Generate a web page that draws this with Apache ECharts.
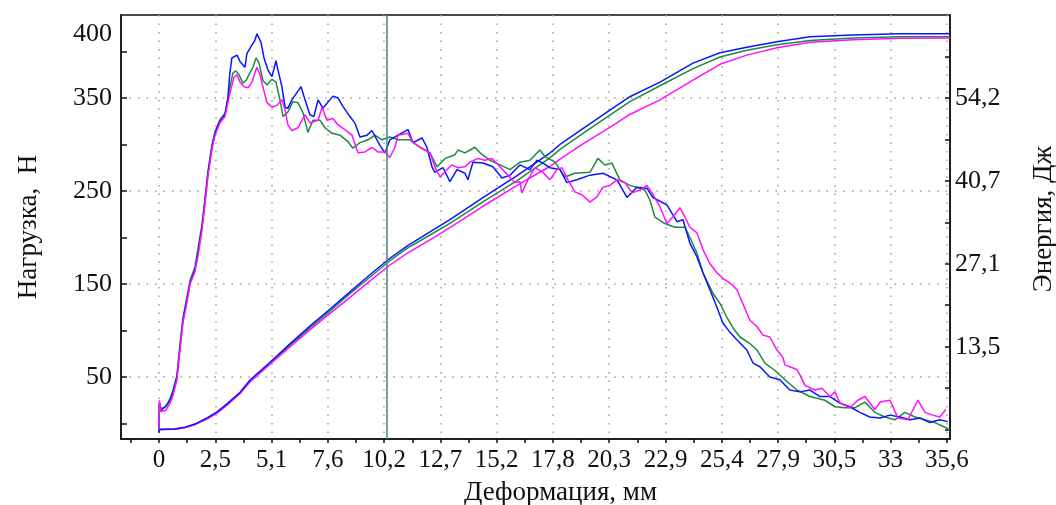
<!DOCTYPE html>
<html>
<head>
<meta charset="utf-8">
<script src="https://cdn.jsdelivr.net/npm/echarts@6/dist/echarts.min.js"></script>
<style>
  html, body { margin: 0; background: #fff; }
  #chart { width: 1056px; height: 505px; }
</style>
</head>
<body>
<div id="chart"></div>
<script>
// деление оси X: 2,54 мм, подписи с запятой как на оригинале
var xTickValues = [0, 2.54, 5.08, 7.62, 10.16, 12.70, 15.24, 17.78, 20.32, 22.86, 25.40, 27.94, 30.48, 33.02, 35.56];
var xTickLabels = ['0', '2,5', '5,1', '7,6', '10,2', '12,7', '15,2', '17,8', '20,3', '22,9', '25,4', '27,9', '30,5', '33', '35,6'];
var xMinorTicks = [-1.27, 0, 1.27, 2.54, 3.81, 5.08, 6.35, 7.62, 8.89, 10.16, 11.43, 12.70, 13.97, 15.24, 16.51,
    17.78, 19.05, 20.32, 21.59, 22.86, 24.13, 25.40, 26.67, 27.94, 29.21, 30.48, 31.75, 33.02, 34.29, 35.56];

var forceTicks = [0, 50, 100, 150, 200, 250, 300, 350, 400];
var forceGrid = [50, 150, 250, 350];
var forceLabelValues = [50, 150, 250, 350, 419];
var forceLabelTexts = ['50', '150', '250', '350', '400'];

var energyTicks = [0, 6.775, 13.55, 20.325, 27.1, 33.875, 40.65, 47.425, 54.2, 60.975];
var energyLabelValues = [13.55, 27.1, 40.65, 54.2];
var energyLabelTexts = ['13,5', '27,1', '40,7', '54,2'];

var markerX = 10.29;

// нагрузка, Н
var blueForce = [[0,-10],[0.02,22],[0.09,14],[0.23,17],[0.36,20],[0.5,25],[0.63,33],[0.72,41],[0.81,50],[0.95,82],
    [1.08,111],[1.26,133],[1.4,151],[1.62,165],[1.76,183],[1.94,211],[2.08,240],[2.21,269],[2.3,283],[2.39,297],
    [2.53,312],[2.75,326],[2.98,332],[3.11,351],[3.2,377],[3.29,393],[3.52,396],[3.66,389],[3.88,383],[3.97,398],
    [4.2,407],[4.33,412],[4.42,419],[4.6,410],[4.74,393],[4.92,380],[5.1,373],[5.28,390],[5.37,380],[5.55,362],
    [5.69,340],[5.82,339],[6.0,348],[6.23,356],[6.41,362],[6.59,348],[6.81,332],[6.99,330],[7.18,348],[7.4,339],
    [7.85,352],[8.08,350],[8.3,341],[8.62,330],[8.84,323],[9.07,308],[9.39,310],[9.61,315],[9.97,299],[10.2,291],
    [10.42,305],[10.79,310],[11.01,313],[11.24,316],[11.46,302],[11.87,307],[12.09,297],[12.32,276],[12.45,270],
    [12.82,275],[13.13,260],[13.45,273],[13.81,269],[13.94,262],[14.17,281],[14.62,280],[15.07,276],[15.48,264],
    [15.84,267],[16.29,278],[16.74,273],[17.06,283],[17.33,280],[17.64,275],[18.1,273],[18.41,259],[18.86,262],
    [19.45,267],[20.04,269],[20.67,262],[21.12,243],[21.57,254],[22.02,253],[22.29,243],[22.92,235],[23.38,217],
    [23.65,219],[23.96,194],[24.28,179],[24.55,162],[24.86,144],[25.18,125],[25.45,108],[25.77,98],[26.08,90],
    [26.53,79],[26.81,65],[27.12,61],[27.57,50],[28.02,47],[28.47,36],[28.93,34],[29.38,36],[29.83,29],[30.28,29],
    [30.73,22],[31.18,18],[31.63,12],[32.08,7],[32.54,6],[32.99,9],[33.44,7],[33.89,4],[34.34,6],[34.79,1],
    [35.24,4],[35.6,2]];

var greenForce = [[0,-10],[0.02,22],[0.1,16],[0.3,18],[0.5,27],[0.63,36],[0.81,52],[0.95,86],[1.08,113],[1.26,136],
    [1.4,154],[1.62,168],[1.76,188],[1.94,214],[2.08,243],[2.21,271],[2.39,300],[2.53,314],[2.75,326],[2.98,334],
    [3.11,348],[3.2,362],[3.34,377],[3.47,379],[3.61,375],[3.79,366],[3.93,369],[4.06,375],[4.24,383],[4.38,393],
    [4.51,388],[4.69,369],[4.87,364],[5.1,370],[5.28,367],[5.46,348],[5.6,330],[5.82,335],[6.05,346],[6.27,345],
    [6.5,334],[6.72,313],[6.95,326],[7.27,326],[7.49,318],[7.81,312],[8.17,310],[8.53,303],[8.75,296],[9.07,302],
    [9.43,305],[9.75,310],[10.06,305],[10.42,308],[10.79,305],[11.33,305],[11.78,297],[12.23,291],[12.55,276],
    [12.91,285],[13.36,289],[13.49,294],[13.81,291],[14.26,297],[14.49,291],[14.94,283],[15.39,278],[15.84,273],
    [16.29,281],[16.74,283],[17.19,294],[17.42,287],[17.87,281],[18.32,265],[18.77,269],[19.45,270],[19.81,285],
    [20.13,278],[20.44,280],[20.8,262],[21.25,256],[21.71,253],[21.93,251],[22.16,240],[22.38,222],[22.83,215],
    [23.29,211],[23.74,211],[23.96,200],[24.28,183],[24.55,162],[24.86,147],[25.0,140],[25.32,129],[25.63,114],
    [25.9,103],[26.22,93],[26.67,86],[26.99,79],[27.35,65],[27.8,57],[28.25,47],[28.79,36],[29.38,29],[30.05,25],
    [30.51,18],[30.96,17],[31.41,17],[31.86,23],[32.31,12],[32.76,7],[33.21,4],[33.66,12],[34.12,7],[34.57,4],
    [35.02,1],[35.47,-4],[35.69,-7]];

var magentaForce = [[0,-6],[0.02,25],[0.08,13],[0.3,14],[0.5,22],[0.63,30],[0.81,47],[0.95,80],[1.08,108],[1.26,130],
    [1.4,150],[1.62,163],[1.76,180],[1.94,208],[2.08,237],[2.21,266],[2.39,295],[2.53,310],[2.75,323],[2.98,330],
    [3.11,345],[3.2,355],[3.38,372],[3.52,375],[3.66,367],[3.84,362],[4.02,361],[4.2,367],[4.33,377],[4.42,383],
    [4.56,375],[4.69,362],[4.87,345],[5.1,340],[5.32,342],[5.55,348],[5.69,337],[5.82,321],[6.0,315],[6.27,318],
    [6.45,326],[6.59,332],[6.81,323],[7.18,326],[7.36,340],[7.58,326],[7.85,328],[8.08,321],[8.39,316],[8.71,310],
    [8.98,291],[9.3,292],[9.61,297],[9.88,292],[10.2,292],[10.42,286],[10.65,297],[10.79,310],[11.24,312],
    [11.46,302],[11.78,297],[12.23,291],[12.45,276],[12.68,265],[13.0,273],[13.22,278],[13.49,275],[13.81,276],
    [14.03,281],[14.4,285],[14.71,283],[15.03,285],[15.39,276],[15.75,267],[16.06,259],[16.29,260],[16.38,248],
    [16.65,262],[16.97,275],[17.33,270],[17.64,262],[17.96,273],[18.19,275],[18.46,262],[18.77,249],[19.09,246],
    [19.45,238],[19.77,244],[20.04,254],[20.35,256],[20.67,262],[21.03,259],[21.35,248],[21.71,251],[22.02,256],
    [22.25,248],[22.61,233],[22.92,215],[23.19,222],[23.51,232],[23.74,222],[23.96,211],[24.28,205],[24.55,187],
    [24.86,172],[25.18,162],[25.45,156],[25.77,151],[26.08,144],[26.35,129],[26.67,111],[26.99,104],[27.26,95],
    [27.57,93],[27.89,79],[28.16,71],[28.25,63],[28.47,61],[28.79,58],[28.93,52],[29.15,41],[29.6,36],[29.92,38],
    [30.28,29],[30.51,34],[30.73,22],[31.18,17],[31.54,25],[31.86,29],[32.31,15],[32.54,23],[32.99,25],[33.35,6],
    [33.8,4],[34.25,25],[34.57,12],[34.93,9],[35.24,7],[35.51,15]];

// энергия, Дж
var blueEnergy = [[0,0],[0.72,0.1],[1.17,0.4],[1.62,0.9],[2.17,1.9],[2.62,2.9],[3.07,4.2],[3.66,6.1],[4.11,8.1],
    [5.01,11.0],[5.91,14.0],[6.81,16.9],[7.72,19.7],[8.62,22.5],[9.52,25.3],[10.42,28.0],[11.19,30.0],[12.23,32.3],
    [13.13,34.3],[14.62,37.9],[16.16,41.5],[17.64,45.2],[18.1,46.6],[19.13,49.2],[20.35,52.2],[21.25,54.4],
    [22.61,56.8],[24.1,59.9],[25.32,61.6],[26.53,62.5],[27.89,63.4],[29.38,64.2],[31.32,64.5],[33.44,64.7],[35.69,64.7]];

var greenEnergy = [[0,0],[0.72,0.1],[1.17,0.35],[1.62,0.85],[2.17,1.8],[2.62,2.8],[3.07,4.1],[3.66,6.0],[4.11,7.9],
    [5.01,10.8],[5.91,13.8],[6.81,16.6],[7.72,19.4],[8.62,22.2],[9.52,24.9],[10.42,27.6],[11.19,29.6],[12.23,31.8],
    [13.13,33.7],[14.62,37.2],[16.16,40.7],[17.64,44.4],[18.1,45.8],[19.13,48.4],[20.35,51.4],[21.25,53.6],
    [22.61,56.2],[24.1,59.0],[25.32,60.9],[26.53,62.0],[27.89,62.9],[29.38,63.6],[31.32,64.0],[33.44,64.2],[35.69,64.2]];

var magentaEnergy = [[0,0],[0.72,0.05],[1.17,0.3],[1.62,0.8],[2.17,1.7],[2.62,2.7],[3.07,4.0],[3.66,5.9],[4.11,7.8],
    [5.01,10.7],[5.91,13.5],[6.81,16.3],[7.72,19.0],[8.62,21.6],[9.52,24.3],[10.42,26.9],[11.19,28.8],[12.23,31.0],
    [13.13,33.0],[14.62,36.5],[16.16,39.9],[17.64,43.0],[18.1,44.2],[19.13,46.7],[20.35,49.4],[21.25,51.5],
    [22.61,53.9],[24.1,57.1],[25.32,59.7],[26.53,61.2],[27.89,62.4],[29.38,63.3],[31.32,63.7],[33.44,63.95],[35.69,64.0]];

function pick(values, texts) {
    return function (v) {
        for (var i = 0; i < values.length; i++) {
            if (Math.abs(values[i] - v) < 1e-6) return texts[i];
        }
        return '';
    };
}

var font = 'Liberation Serif';
var ink = '#111';
var dots = { color: '#a39d85', width: 1.5, type: [1.5, 7] };

var myChart = echarts.init(document.getElementById('chart'), null, { renderer: 'canvas' });

function line(data, color, yIdx) {
    return {
        type: 'line',
        data: data,
        xAxisIndex: 0,
        yAxisIndex: yIdx,
        showSymbol: false,
        symbol: 'none',
        color: color,
        lineStyle: { color: color, width: 1.5 }
    };
}

var blueF = line(blueForce, '#0a14ff', 0);
blueF.markLine = {
    silent: true,
    symbol: ['none', 'none'],
    label: { show: false },
    lineStyle: { color: '#3f8585', width: 1.5, type: 'solid' },
    data: [{ xAxis: markerX }]
};

var option = {
    animation: false,
    backgroundColor: '#fff',
    grid: { left: 121, right: 106, top: 15, bottom: 66, show: true, borderColor: ink, borderWidth: 1.5,
        containLabel: false, outerBoundsMode: 'none' },
    xAxis: [
        {
            type: 'value', min: -1.715, max: 35.70,
            name: 'Деформация, мм', nameLocation: 'middle', nameGap: 40,
            nameTextStyle: { fontFamily: font, fontSize: 27, color: ink, padding: [0, 0, 0, 50] },
            axisLine: { show: true, onZero: false, lineStyle: { color: ink, width: 1.5 } },
            axisTick: { show: true, customValues: xMinorTicks, length: 4, lineStyle: { color: ink, width: 1.5 } },
            axisLabel: { customValues: xTickValues, formatter: pick(xTickValues, xTickLabels),
                fontFamily: font, fontSize: 25, color: ink, margin: 9 },
            splitLine: { show: false }
        },
        {
            type: 'value', min: -1.715, max: 35.70,
            axisLine: { show: false },
            axisTick: { show: false, customValues: xTickValues },
            axisLabel: { show: false },
            splitLine: { show: true, lineStyle: dots }
        }
    ],
    yAxis: [
        {
            type: 'value', position: 'left', min: -16.67, max: 439.2,
            name: 'Нагрузка,  Н', nameLocation: 'middle', nameGap: 79, nameRotate: 90,
            nameTextStyle: { fontFamily: font, fontSize: 27, color: ink },
            axisLine: { show: true, onZero: false, lineStyle: { color: ink, width: 1.5 } },
            axisTick: { show: true, inside: true, length: 6, customValues: forceTicks, lineStyle: { color: ink, width: 1.5 } },
            axisLabel: { customValues: forceLabelValues, formatter: pick(forceLabelValues, forceLabelTexts),
                fontFamily: font, fontSize: 26, color: ink, margin: 9, padding: [6, 0, 0, 0] },
            splitLine: { show: false }
        },
        {
            type: 'value', position: 'right', min: -1.54, max: 67.76,
            name: 'Энергия, Дж', nameLocation: 'middle', nameGap: 80, nameRotate: 90,
            nameTextStyle: { fontFamily: font, fontSize: 27, color: ink, padding: [0, 0, 0, 16] },
            axisLine: { show: true, onZero: false, lineStyle: { color: ink, width: 1.5 } },
            axisTick: { show: true, inside: true, length: 5, customValues: energyTicks, lineStyle: { color: ink, width: 1.5 } },
            axisLabel: { customValues: energyLabelValues, formatter: pick(energyLabelValues, energyLabelTexts),
                fontFamily: font, fontSize: 26, color: ink, margin: 5, padding: [12, 0, 0, 0] },
            splitLine: { show: false }
        },
        {
            type: 'value', position: 'left', min: -16.67, max: 439.2,
            axisLine: { show: false },
            axisTick: { show: false, customValues: forceGrid },
            axisLabel: { show: false },
            splitLine: { show: true, lineStyle: dots }
        }
    ],
    series: [
        line(greenEnergy, '#1e8a40', 1),
        line(magentaEnergy, '#ff10ff', 1),
        line(blueEnergy, '#0a14ff', 1),
        line(greenForce, '#1e8a40', 0),
        blueF,
        line(magentaForce, '#ff10ff', 0)
    ]
};

myChart.setOption(option);
</script>
</body>
</html>
